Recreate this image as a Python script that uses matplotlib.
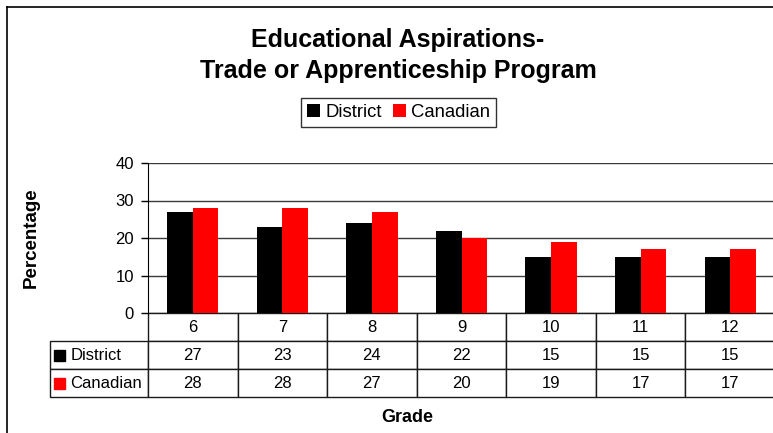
import matplotlib.pyplot as plt
from matplotlib.patches import Rectangle
from matplotlib.lines import Line2D
import numpy as np

plt.rcParams['font.family'] = ['Liberation Sans', 'DejaVu Sans']

grades = ['6', '7', '8', '9', '10', '11', '12']
district = [27, 23, 24, 22, 15, 15, 15]
canadian = [28, 28, 27, 20, 19, 17, 17]
series_names = ['District', 'Canadian']
colors = ['#000000', '#FF0000']

W, H = 773, 433
fig = plt.figure(figsize=(W / 100, H / 100), dpi=100)

# plot area in pixel terms: x 148..775, y 163..313
ax = fig.add_axes([148 / W, 1 - 313 / H, 627 / W, 150 / H])

x = np.arange(len(grades))
bw = 0.287
b1 = ax.bar(x - bw / 2, district, bw, color=colors[0], zorder=3)
b2 = ax.bar(x + bw / 2, canadian, bw, color=colors[1], zorder=3)

ax.set_xlim(-0.5, len(grades) - 0.5)
ax.set_ylim(0, 40)
ax.set_yticks([0, 10, 20, 30, 40])
ax.set_xticks([])
ax.yaxis.grid(True, color='#3a3a3a', linewidth=1)
ax.set_axisbelow(True)
for s in ['top', 'right', 'bottom']:
    ax.spines[s].set_visible(False)
ax.spines['left'].set_color('black')
ax.tick_params(axis='y', length=5, width=1, pad=5, labelsize=12)

ax.set_ylabel('Percentage', fontsize=13.5, fontweight='bold')
ax.yaxis.set_label_coords((40 - 148) / 627, 0.5)
ax.set_xlabel('Grade', fontsize=13, fontweight='bold', va='center')
ax.xaxis.set_label_coords((407 - 148) / 627, (313 - 417) / 150)

# data table under the bars: first column holds the series names
rl_w = 98 / 627
cells = [[name] + vals for name, vals in zip(series_names, [district, canadian])]
tbl = ax.table(cellText=cells, colLabels=[''] + grades, cellLoc='center',
               colWidths=[rl_w] + [89.57 / 627] * len(grades),
               bbox=[-rl_w, -84 / 150, 1 + rl_w, 84 / 150])
tbl.auto_set_font_size(False)
tbl.set_fontsize(12)
for (r, c), cell in tbl.get_celld().items():
    cell.set_edgecolor('#1a1a1a')
    cell.set_linewidth(1)
    if c == 0:
        cell.PAD = 0.21
        cell.get_text().set_ha('left')
        cell._loc = 'left'
    if r == 0 and c == 0:
        cell.visible_edges = ''

# colour keys in the row labels
for i, col in enumerate(colors):
    yc = (313 - (355.5 + i * 28)) / 150
    ax.add_patch(Rectangle((-(148 - 54) / 627, yc - 5.5 / 150), 11 / 627, 11 / 150,
                           transform=ax.transAxes, color=col, clip_on=False))

fig.text(398 / W, 1 - 40 / H, 'Educational Aspirations-', ha='center', va='center',
         fontsize=18, fontweight='bold')
fig.text(398 / W, 1 - 71 / H, 'Trade or Apprenticeship Program', ha='center', va='center',
         fontsize=18, fontweight='bold')

leg = fig.legend([b1, b2], series_names, loc='center', ncol=2,
                 bbox_to_anchor=(398.5 / W, 1 - 112.5 / H), fontsize=13.3,
                 frameon=True, fancybox=False, edgecolor='black',
                 handlelength=0.7, handleheight=0.7, handletextpad=0.3,
                 columnspacing=0.6, borderpad=0.3, borderaxespad=0)
leg.get_frame().set_linewidth(1)

# outer chart border (left and top visible)
fig.add_artist(Line2D([7 / W, 7 / W], [0, 1 - 7 / H], transform=fig.transFigure,
                      color='black', linewidth=1.2))
fig.add_artist(Line2D([7 / W, 1], [1 - 7 / H, 1 - 7 / H], transform=fig.transFigure,
                      color='black', linewidth=1.2))

fig.savefig('out.png', dpi=100)
